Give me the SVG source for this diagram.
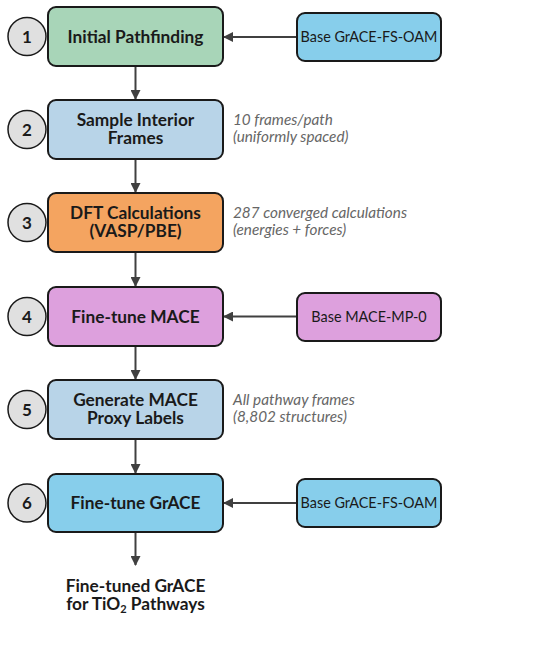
<svg xmlns="http://www.w3.org/2000/svg" width="537" height="653" viewBox="0 0 537 653">
<defs>
<marker id="ah" markerWidth="10" markerHeight="10" refX="9" refY="5" orient="auto" markerUnits="userSpaceOnUse">
<path d="M0,0 L10,5 L0,10 Z" fill="#404040"/>
</marker>
<style>
.main{stroke:#1a1a1a;stroke-width:2}
.side{stroke:#1a1a1a;stroke-width:2}
.num{fill:#e0e0e0;stroke:#1a1a1a;stroke-width:1.5}
.t{font-family:Lato,"Liberation Sans",sans-serif;font-weight:bold;font-size:17.3px;fill:#1a1a1a;text-anchor:middle}
.n{font-family:Lato,"Liberation Sans",sans-serif;font-weight:bold;font-size:17px;fill:#1a1a1a;text-anchor:middle}
.s{font-family:Lato,"Liberation Sans",sans-serif;font-size:14.4px;fill:#1a1a1a;text-anchor:middle}
.a{font-family:Lato,"Liberation Sans",sans-serif;font-style:italic;font-size:15.3px;fill:#666666}
.c{stroke:#404040;stroke-width:2;fill:none}
</style>
</defs>
<rect width="537" height="653" fill="#ffffff"/>

<g id="connectors">
<line class="c" x1="135.5" y1="66" x2="135.5" y2="99" marker-end="url(#ah)"/>
<line class="c" x1="135.5" y1="159" x2="135.5" y2="192" marker-end="url(#ah)"/>
<line class="c" x1="135.5" y1="252" x2="135.5" y2="286" marker-end="url(#ah)"/>
<line class="c" x1="135.5" y1="346" x2="135.5" y2="379" marker-end="url(#ah)"/>
<line class="c" x1="135.5" y1="439" x2="135.5" y2="473" marker-end="url(#ah)"/>
<line class="c" x1="135.5" y1="532" x2="135.5" y2="565" marker-end="url(#ah)"/>
<line class="c" x1="297" y1="37" x2="224" y2="37" marker-end="url(#ah)"/>
<line class="c" x1="297" y1="316.5" x2="224" y2="316.5" marker-end="url(#ah)"/>
<line class="c" x1="297" y1="503" x2="224" y2="503" marker-end="url(#ah)"/>
</g>

<g id="step1">
<circle class="num" cx="27" cy="36.5" r="19"/>
<text class="n" x="27" y="42.5">1</text>
<rect class="main" x="48" y="7" width="175" height="59" rx="8" fill="#a8d5b8"/>
<text class="t" x="135.5" y="42.5">Initial Pathfinding</text>
</g>

<g id="step2">
<circle class="num" cx="27" cy="129.5" r="19"/>
<text class="n" x="27" y="135.5">2</text>
<rect class="main" x="48" y="100" width="175" height="59" rx="8" fill="#b8d4e8"/>
<text class="t" x="135.5" y="126">Sample Interior</text>
<text class="t" x="135.5" y="144">Frames</text>
<text class="a" x="233" y="125">10 frames/path</text>
<text class="a" x="233" y="142">(uniformly spaced)</text>
</g>

<g id="step3">
<circle class="num" cx="27" cy="222.5" r="19"/>
<text class="n" x="27" y="228.5">3</text>
<rect class="main" x="48" y="193" width="175" height="59" rx="8" fill="#f4a460"/>
<text class="t" x="135.5" y="219">DFT Calculations</text>
<text class="t" x="135.5" y="237">(VASP/PBE)</text>
<text class="a" x="233" y="218">287 converged calculations</text>
<text class="a" x="233" y="235">(energies + forces)</text>
</g>

<g id="step4">
<circle class="num" cx="27" cy="316.5" r="19"/>
<text class="n" x="27" y="322.5">4</text>
<rect class="main" x="48" y="287" width="175" height="59" rx="8" fill="#dda0dd"/>
<text class="t" x="135.5" y="322.5">Fine-tune MACE</text>
</g>

<g id="step5">
<circle class="num" cx="27" cy="409.5" r="19"/>
<text class="n" x="27" y="415.5">5</text>
<rect class="main" x="48" y="380" width="175" height="59" rx="8" fill="#b8d4e8"/>
<text class="t" x="135.5" y="406">Generate MACE</text>
<text class="t" x="135.5" y="424">Proxy Labels</text>
<text class="a" x="233" y="405">All pathway frames</text>
<text class="a" x="233" y="422">(8,802 structures)</text>
</g>

<g id="step6">
<circle class="num" cx="27" cy="503" r="19"/>
<text class="n" x="27" y="509">6</text>
<rect class="main" x="48" y="474" width="175" height="58" rx="8" fill="#87ceeb"/>
<text class="t" x="135.5" y="509">Fine-tune GrACE</text>
</g>

<g id="base1">
<rect class="side" x="297" y="13" width="144" height="48" rx="8" fill="#87ceeb"/>
<text class="s" x="369" y="42">Base GrACE-FS-OAM</text>
</g>

<g id="base2">
<rect class="side" x="297" y="293" width="144" height="48" rx="8" fill="#dda0dd"/>
<text class="s" x="369" y="322">Base MACE-MP-0</text>
</g>

<g id="base3">
<rect class="side" x="297" y="479" width="144" height="48" rx="8" fill="#87ceeb"/>
<text class="s" x="369" y="508">Base GrACE-FS-OAM</text>
</g>

<g id="output">
<text class="t" x="135.5" y="592">Fine-tuned GrACE</text>
<text class="t" x="135.5" y="610">for TiO<tspan font-size="11" dy="3">2</tspan><tspan dy="-3"> Pathways</tspan></text>
</g>
</svg>
